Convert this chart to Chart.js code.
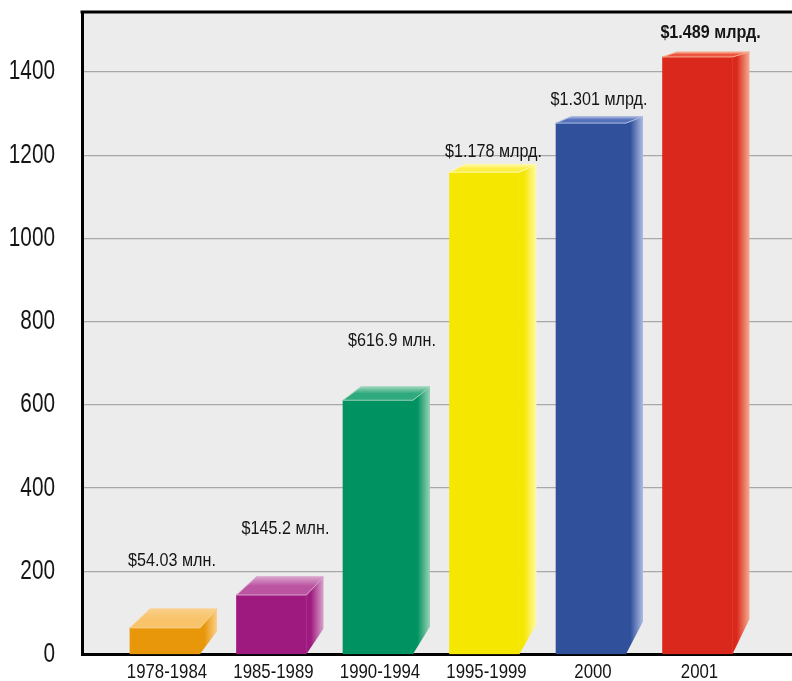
<!DOCTYPE html>
<html>
<head>
<meta charset="utf-8">
<script src="https://cdn.jsdelivr.net/npm/chart.js@4/dist/chart.umd.min.js"></script>
<style>
  body { margin: 0; background: #fff; }
  canvas { display: block; }
</style>
</head>
<body>
<canvas id="grafico" width="792" height="681"></canvas>
<script>
const categories = ['1978-1984', '1985-1989', '1990-1994', '1995-1999', '2000', '2001']
const barValues = [64, 143, 611, 1159, 1277, 1436]
const valueLabels = ['$54.03 млн.', '$145.2 млн.', '$616.9 млн.', '$1.178 млрд.', '$1.301 млрд.', '$1.489 млрд.']
const yTicks = [0, 200, 400, 600, 800, 1000, 1200, 1400]

// styles
const frontColors = ['#E8960A', '#9E1A7E', '#009260', '#F6E700', '#30509C', '#DA291C']
const lightColors = ['#FAD08A', '#D9A2CB', '#9AD3B8', '#FFF9A8', '#AEBCE2', '#F5AE90']
const topColors = ['#F8C36A', '#BB55A2', '#2FA97E', '#FCEF4A', '#5571BC', '#EE5540']
const labelGap = [48, 48, 46, 13, 17, 19]
const labelShift = [7, 14, 14, 9, 8, 13]
const family = '"Liberation Sans", Arial, sans-serif'

const canvas = document.getElementById('grafico')

// no condensed face is installed, so squeeze the text horizontally
function narrowText(ctx, text, x, y, font, align, sx){
    ctx.save()
    ctx.font = font
    ctx.fillStyle = '#151515'
    ctx.textAlign = align
    ctx.textBaseline = 'middle'
    ctx.translate(x, y)
    ctx.scale(sx, 1)
    ctx.fillText(text, 0, 0)
    ctx.restore()
}

const backdrop = {
    id: 'backdrop',
    beforeDraw(chart) {
        const {ctx, chartArea} = chart
        ctx.save()
        ctx.fillStyle = '#ECECEC'
        ctx.fillRect(chartArea.left, chartArea.top, chartArea.right - chartArea.left, chartArea.bottom - chartArea.top)
        ctx.restore()
    },
    afterDraw(chart) {
        const {ctx, chartArea, scales} = chart
        ctx.save()
        ctx.strokeStyle = '#000'
        ctx.lineWidth = 3
        ctx.beginPath()
        ctx.moveTo(chartArea.left - 1.5, chartArea.top)
        ctx.lineTo(chartArea.right, chartArea.top)
        ctx.stroke()
        ctx.restore()

        // axis labels
        yTicks.forEach(v => {
            narrowText(ctx, String(v), chartArea.left - 27, scales.y.getPixelForValue(v), '27px ' + family, 'right', 0.77)
        })
        categories.forEach((c, i) => {
            narrowText(ctx, c, scales.x.getPixelForValue(i) + 2, chartArea.bottom + 18, '21px ' + family, 'center', 0.8)
        })
    }
}

// top and side faces plus the value labels
const boxes = {
    id: 'boxes',
    afterDatasetsDraw(chart) {
        const ctx = chart.ctx
        const meta = chart.getDatasetMeta(0)
        ctx.save()
        meta.data.forEach((bar, i) => {
            const {x, y, base, width} = bar.getProps(['x', 'y', 'base', 'width'], true)
            const l = x - width / 2
            const r = x + width / 2
            const dx = 17
            const dy = 3.6 + 0.0245 * y
            const dyb = 18 + 0.023 * r
            const dxl = dx + (y - 300) / 100

            // side
            let g = ctx.createLinearGradient(r, 0, r + dx, 0)
            g.addColorStop(0, frontColors[i])
            g.addColorStop(0.25, frontColors[i])
            g.addColorStop(1, lightColors[i])
            ctx.fillStyle = g
            ctx.beginPath()
            ctx.moveTo(r, y)
            ctx.lineTo(r + dx, y - dy)
            ctx.lineTo(r + dx, base - dyb)
            ctx.lineTo(r, base)
            ctx.closePath()
            ctx.fill()

            // top
            g = ctx.createLinearGradient(0, y - dy, 0, y)
            g.addColorStop(0, lightColors[i])
            g.addColorStop(0.5, topColors[i])
            g.addColorStop(1, topColors[i])
            ctx.fillStyle = g
            ctx.beginPath()
            ctx.moveTo(l, y)
            ctx.lineTo(l + dxl, y - dy)
            ctx.lineTo(r + dx, y - dy)
            ctx.lineTo(r, y)
            ctx.closePath()
            ctx.fill()
            ctx.strokeStyle = lightColors[i]
            ctx.lineWidth = 1
            ctx.stroke()

            const bold = i === valueLabels.length - 1 ? 'bold ' : ''
            narrowText(ctx, valueLabels[i], x + labelShift[i], y - dy - labelGap[i], bold + '19px ' + family, 'center', 0.85)
        })
        ctx.restore()
    }
}

const chart = new Chart(canvas, {
    type: 'bar',
    data: {
        datasets: [{
            data: categories.map((c, i) => ({x: i, y: barValues[i]})),
            backgroundColor: frontColors,
            borderWidth: 0,
            barThickness: 70
        }]
    },
    options: {
        responsive: false,
        animation: false,
        layout: {padding: {top: 12, left: 0, right: 0, bottom: 0}},
        plugins: {legend: {display: false}, tooltip: {enabled: false}},
        scales: {
            x: {
                type: 'linear',
                offset: false,
                min: -0.779,
                max: 5.887,
                grid: {display: false, drawTicks: false, offset: false},
                border: {display: true, color: '#000', width: 3},
                afterBuildTicks: s => { s.ticks = categories.map((c, i) => ({value: i})) },
                ticks: {display: false},
                afterFit: s => {
                    s.height = 26.5
                    s.paddingLeft = 0
                    s.paddingRight = 0
                }
            },
            y: {
                min: 0,
                max: 1544,
                afterBuildTicks: s => { s.ticks = yTicks.map(v => ({value: v})) },
                grid: {color: '#A8A8A8', lineWidth: 1.2, drawTicks: false},
                border: {display: true, color: '#000', width: 3},
                ticks: {display: false},
                afterFit: s => {
                    s.width = 82
                    s.paddingTop = 0
                    s.paddingBottom = 0
                }
            }
        }
    },
    plugins: [backdrop, boxes]
})
</script>
</body>
</html>
